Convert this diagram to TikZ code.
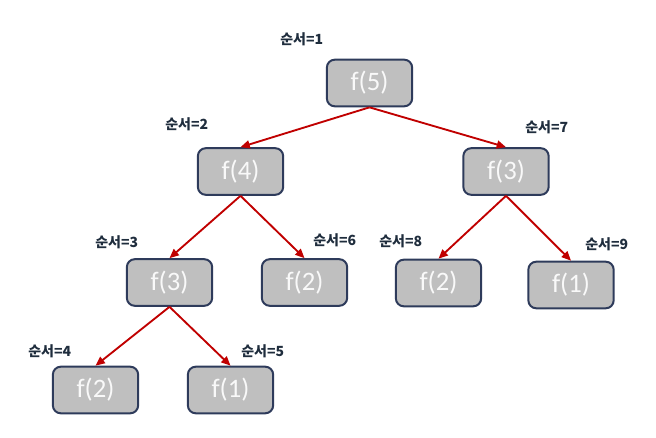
\documentclass[tikz,border=0pt]{standalone}
\usepackage{fontspec}
\setmainfont{Carlito}
\newfontfamily\kor{Noto Sans CJK KR}
\usepackage{xcolor}
\usetikzlibrary{arrows.meta}

\definecolor{abu}{HTML}{BFBFBF}
\definecolor{garis}{HTML}{2E3B5B}
\definecolor{merah}{HTML}{C00000}
\definecolor{tinta}{HTML}{1F2D3D}

\begin{document}
\begin{tikzpicture}[
    x=0.75pt, y=-0.75pt,
    kotak/.style={draw=garis, fill=abu, line width=1.5pt, rounded corners=6pt,
                  minimum width=64pt, minimum height=35pt, text=white!95!gray,
                  font=\fontsize{20}{22}\selectfont, inner sep=0pt},
    urutan/.style={anchor=west, text=tinta, inner sep=0pt,
                   font=\kor\bfseries\fontsize{10.5}{12}\selectfont},
    panah/.style={-{Triangle[length=7pt, width=6pt]}, draw=merah, line width=1.4pt}
  ]
    \useasboundingbox (0,0) rectangle (656,438);

    \node[kotak] (f5) at (369.5,83) {f(5)};
    \node[kotak] (f4) at (240.5,171.5) {f(4)};
    \node[kotak] (f3b) at (506,171.5) {f(3)};
    \node[kotak] (f3a) at (169.5,282.5) {f(3)};
    \node[kotak] (f2b) at (304.5,282.5) {f(2)};
    \node[kotak] (f2c) at (438.5,283) {f(2)};
    \node[kotak] (f1b) at (571,285) {f(1)};
    \node[kotak] (f2a) at (95.5,390) {f(2)};
    \node[kotak] (f1a) at (230.5,390) {f(1)};

    \node[urutan] (u1) at (280,39) {순서=1};
    \node[urutan] (u2) at (165,124) {순서=2};
    \node[urutan] (u3) at (95,242) {순서=3};
    \node[urutan] (u4) at (28,351) {순서=4};
    \node[urutan] (u5) at (241,351) {순서=5};
    \node[urutan] (u6) at (313,240) {순서=6};
    \node[urutan] (u7) at (525,127) {순서=7};
    \node[urutan] (u8) at (379,241) {순서=8};
    \node[urutan] (u9) at (585,244) {순서=9};

    \draw[panah] (f5.south) -- (f4.north);
    \draw[panah] (f5.south) -- (f3b.north);
    \draw[panah] (f4.south) -- (f3a.north);
    \draw[panah] (f4.south) -- (f2b.north);
    \draw[panah] (f3a.south) -- (f2a.north);
    \draw[panah] (f3a.south) -- (f1a.north);
    \draw[panah] (f3b.south) -- (f2c.north);
    \draw[panah] (f3b.south) -- (f1b.north);
  \end{tikzpicture}
\end{document}
